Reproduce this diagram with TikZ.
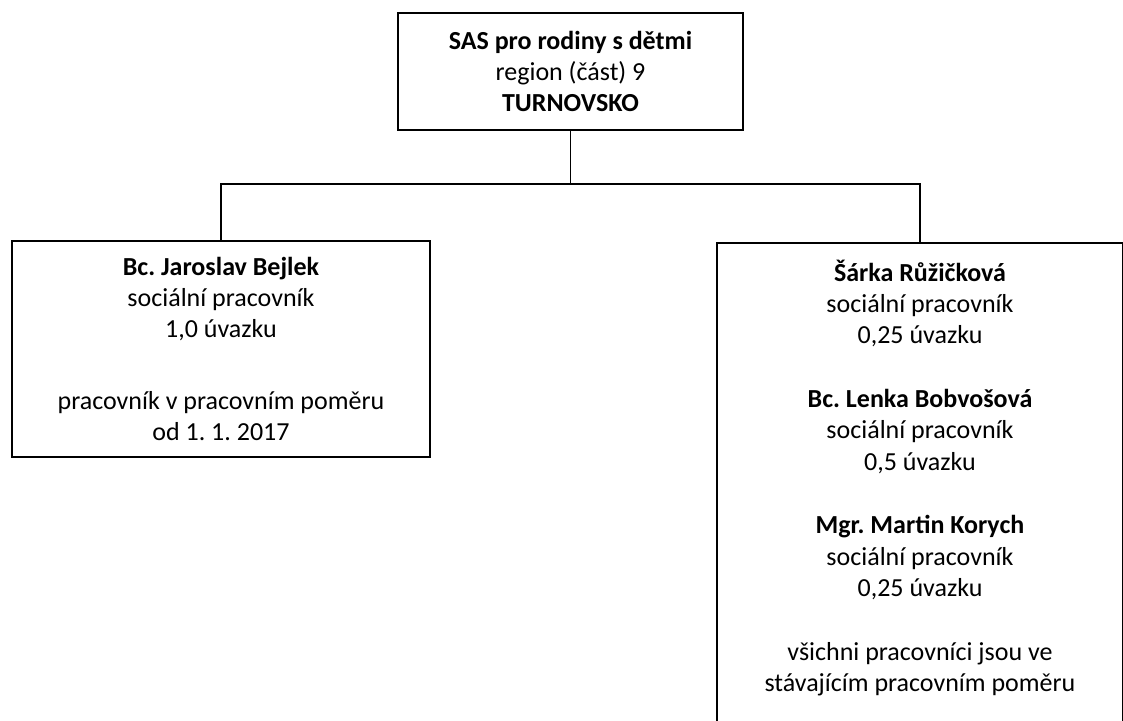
\documentclass[tikz,border=0pt]{standalone}
\usepackage{fontspec}
\setmainfont{Carlito}
\frenchspacing
\usetikzlibrary{positioning}
\tikzset{
    unit/.style={draw, line width=1pt, align=center, inner sep=0pt,
        font=\fontsize{14.8}{17.8}\selectfont},
    link/.style={line width=1pt}
}
\begin{document}
\begin{tikzpicture}[scale=1.0]
    % Page frame
    \useasboundingbox (0,0) rectangle (22.46,-14.4);
    % Draw boxes
    \node [unit, minimum width=6.9cm, minimum height=2.34cm] (org) at (11.41,-1.43)
        {\textbf{SAS pro rodiny s dětmi}\\region (část) 9\\\textbf{TURNOVSKO}};
    \node [unit, minimum width=8.36cm, minimum height=4.32cm] (lbox) at (4.42,-6.98)
        {\textbf{Bc. Jaroslav Bejlek}\\sociální pracovník\\1,0 úvazku\\[23pt]
         pracovník v pracovním poměru\\od 1. 1. 2017};
    \node [unit, anchor=north, minimum width=8.12cm] (rbox) at (18.40,-4.84)
        {\parbox[c][10.4cm][t]{8cm}{\centering\vspace{0.34cm}
         \textbf{Šárka Růžičková}\\sociální pracovník\\0,25 úvazku\\[18.5pt]
         \textbf{Bc. Lenka Bobvošová}\\sociální pracovník\\0,5 úvazku\\[18.5pt]
         \textbf{Mgr. Martin Korych}\\sociální pracovník\\0,25 úvazku\\[18.5pt]
         všichni pracovníci jsou ve\\stávajícím pracovním poměru}};
    % Draw connectors
    \coordinate (bus) at ([yshift=-1.06cm]org.south);
    \draw [link] (org.south) -- (bus);
    \draw [link] (lbox.north) |- (bus) -| (rbox.north);
\end{tikzpicture}
\end{document}
